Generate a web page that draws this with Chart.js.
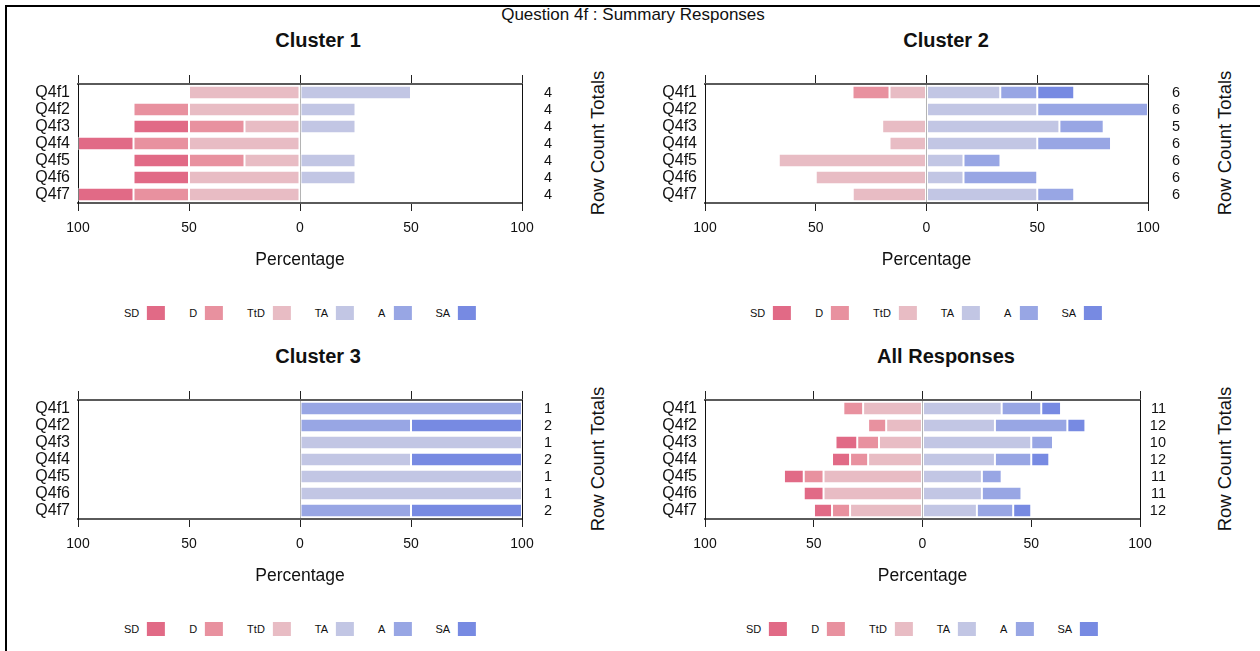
<!DOCTYPE html>
<html>
<head>
<meta charset="utf-8">
<script src="https://cdn.jsdelivr.net/npm/chart.js@4.4.1/dist/chart.umd.min.js"></script>
<style>
  body { margin: 0; background: #fff; font-family: "Liberation Sans", Arial, sans-serif; }
  #page { position: relative; width: 1260px; height: 651px; overflow: hidden; }
  .frame-top { position: absolute; left: 5px; top: 5px; width: 1255px; height: 2px; background: #000; }
  .frame-left { position: absolute; left: 5px; top: 5px; width: 2px; height: 646px; background: #000; }
  .txt { position: absolute; white-space: nowrap; color: #111; transform: translate(-50%, -50%); }
  .main-title { font-size: 17px; }
  .panel-title { font-size: 20px; font-weight: bold; }
  .side-title { font-size: 18.5px; transform: translate(-50%, -50%) rotate(-90deg); }
  .legend { position: absolute; display: flex; align-items: center; gap: 24px; transform: translate(-50%, -50%); font-size: 11px; color: #111; }
  .legend span.item { display: flex; align-items: center; gap: 8px; }
  .legend span.box { display: inline-block; width: 18px; height: 14px; }
  canvas { position: absolute; }
</style>
</head>
<body>
<div id="page">
  <div class="frame-top"></div>
  <div class="frame-left"></div>
</div>
<script>
// Likert levels and questions
const questions = ['Q4f1', 'Q4f2', 'Q4f3', 'Q4f4', 'Q4f5', 'Q4f6', 'Q4f7'];
const levels = ['SD', 'D', 'TtD', 'TA', 'A', 'SA'];
const levelColors = ['#E16A86', '#E8919F', '#E8BCC4', '#C2C6E4', '#98A6E4', '#778AE2'];
const xTicks = [-100, -50, 0, 50, 100];

// Cluster 1 (percent of row)
const c1SD  = [0, 0, 25, 25, 25, 25, 25];
const c1D   = [0, 25, 25, 25, 25, 0, 25];
const c1TtD = [50, 50, 25, 50, 25, 50, 50];
const c1TA  = [50, 25, 25, 0, 25, 25, 0];
const c1A   = [0, 0, 0, 0, 0, 0, 0];
const c1SA  = [0, 0, 0, 0, 0, 0, 0];
const c1Totals = [4, 4, 4, 4, 4, 4, 4];

// Cluster 2
const c2SD  = [0, 0, 0, 0, 0, 0, 0];
const c2D   = [16.7, 0, 0, 0, 0, 0, 0];
const c2TtD = [16.7, 0, 20, 16.7, 66.7, 50, 33.3];
const c2TA  = [33.3, 50, 60, 50, 16.7, 16.7, 50];
const c2A   = [16.7, 50, 20, 33.3, 16.7, 33.3, 16.7];
const c2SA  = [16.7, 0, 0, 0, 0, 0, 0];
const c2Totals = [6, 6, 5, 6, 6, 6, 6];

// Cluster 3
const c3SD  = [0, 0, 0, 0, 0, 0, 0];
const c3D   = [0, 0, 0, 0, 0, 0, 0];
const c3TtD = [0, 0, 0, 0, 0, 0, 0];
const c3TA  = [0, 0, 100, 50, 100, 100, 0];
const c3A   = [100, 50, 0, 0, 0, 0, 50];
const c3SA  = [0, 50, 0, 50, 0, 0, 50];
const c3Totals = [1, 2, 1, 2, 1, 1, 2];

// All responses
const allSD  = [0, 0, 10, 8.3, 9.1, 9.1, 8.3];
const allD   = [9.1, 8.3, 10, 8.3, 9.1, 0, 8.3];
const allTtD = [27.3, 16.7, 20, 25, 45.5, 45.5, 33.3];
const allTA  = [36.4, 33.3, 50, 33.3, 27.3, 27.3, 25];
const allA   = [18.2, 33.3, 10, 16.7, 9.1, 18.2, 16.7];
const allSA  = [9.1, 8.3, 0, 8.3, 0, 0, 8.3];
const allTotals = [11, 12, 10, 12, 11, 11, 12];

Chart.defaults.font.family = '"Liberation Sans", Arial, sans-serif';
Chart.defaults.color = '#111';

const page = document.getElementById('page');

function addText(cls, text, x, y) {
    const d = document.createElement('div');
    d.className = 'txt ' + cls;
    d.textContent = text;
    d.style.left = x + 'px';
    d.style.top = y + 'px';
    page.appendChild(d);
}

function addLegend(x, y) {
    const lg = document.createElement('div');
    lg.className = 'legend';
    lg.style.left = x + 'px';
    lg.style.top = y + 'px';
    levels.forEach((lv, i) => {
        const item = document.createElement('span');
        item.className = 'item';
        item.innerHTML = '<span>' + lv + '</span><span class="box" style="background:' + levelColors[i] + '"></span>';
        lg.appendChild(item);
    });
    page.appendChild(lg);
}

function makePanel(opts) {
    const canvas = document.createElement('canvas');
    canvas.width = opts.plotRight + opts.totalsW - opts.left;
    canvas.height = 220;
    canvas.style.left = opts.left + 'px';
    canvas.style.top = opts.top + 'px';
    page.appendChild(canvas);

    const s = opts.series; // [SD, D, TtD, TA, A, SA]
    const neg = arr => arr.map(v => -v);
    // stack order from zero outwards
    const order = [2, 1, 0, 3, 4, 5];
    const datasets = order.map(i => ({
        label: levels[i],
        data: i < 3 ? neg(s[i]) : s[i],
        backgroundColor: levelColors[i],
        borderColor: 'rgba(255,255,255,0.45)',
        borderWidth: 1,
        borderSkipped: false,
        barPercentage: 0.8,
        categoryPercentage: 1
    }));

    const fixY = w => sc => {
        sc.width = w;
        sc.paddingTop = 0;
        sc.paddingBottom = 0;
    };

    return new Chart(canvas.getContext('2d'), {
        type: 'bar',
        data: { labels: questions, datasets: datasets },
        options: {
            indexAxis: 'y',
            responsive: false,
            animation: false,
            devicePixelRatio: 1,
            layout: { padding: 0 },
            plugins: { legend: { display: false }, tooltip: { enabled: false } },
            scales: {
                x: {
                    type: 'linear', position: 'bottom', stacked: true,
                    min: -100, max: 100,
                    afterBuildTicks: sc => { sc.ticks = xTicks.map(v => ({ value: v })); },
                    afterFit: sc => { sc.height = 77; },
                    ticks: { font: { size: 14 }, padding: 9, maxRotation: 0, callback: v => Math.abs(v) },
                    grid: {
                        color: ctx => (ctx.tick && ctx.tick.value === 0) ? '#b4b4b4' : 'rgba(0,0,0,0)',
                        tickColor: '#222', tickLength: 8, lineWidth: 1
                    },
                    border: { display: true, color: '#5a5a5a', width: 2 },
                    title: { display: true, text: 'Percentage', font: { size: 17.5 }, padding: { top: 4, bottom: 9 } }
                },
                x2: {
                    type: 'linear', position: 'top',
                    min: -100, max: 100,
                    afterBuildTicks: sc => { sc.ticks = xTicks.map(v => ({ value: v })); },
                    afterFit: sc => { sc.height = 24; },
                    ticks: { display: false },
                    grid: { drawOnChartArea: false, tickColor: '#222', tickLength: 9 },
                    border: { display: true, color: '#5a5a5a', width: 2 }
                },
                y: {
                    type: 'category', position: 'left', stacked: true, offset: true,
                    afterFit: fixY(opts.plotLeft - opts.left),
                    ticks: { font: { size: 16 }, padding: 8, autoSkip: false },
                    grid: { display: false, drawTicks: false },
                    border: { display: true, color: '#111', width: 1 }
                },
                y2: {
                    type: 'category', position: 'right', offset: true,
                    labels: opts.totals.map(String),
                    afterFit: fixY(opts.totalsW),
                    ticks: { font: { size: 14.5 }, crossAlign: 'far', autoSkip: false },
                    grid: { display: false, drawTicks: false },
                    border: { display: true, color: '#111', width: 1 }
                }
            }
        }
    });
}

addText('main-title', 'Question 4f : Summary Responses', 633, 15);

makePanel({ left: 0, top: 60, plotLeft: 78, plotRight: 522, totalsW: 30, totals: c1Totals,
    series: [c1SD, c1D, c1TtD, c1TA, c1A, c1SA] });
makePanel({ left: 627, top: 60, plotLeft: 705, plotRight: 1148, totalsW: 32, totals: c2Totals,
    series: [c2SD, c2D, c2TtD, c2TA, c2A, c2SA] });
makePanel({ left: 0, top: 376, plotLeft: 78, plotRight: 522, totalsW: 30, totals: c3Totals,
    series: [c3SD, c3D, c3TtD, c3TA, c3A, c3SA] });
makePanel({ left: 627, top: 376, plotLeft: 705, plotRight: 1140, totalsW: 26, totals: allTotals,
    series: [allSD, allD, allTtD, allTA, allA, allSA] });

addText('panel-title', 'Cluster 1', 318, 40);
addText('panel-title', 'Cluster 2', 946, 40);
addText('panel-title', 'Cluster 3', 318, 356);
addText('panel-title', 'All Responses', 946, 356);

addText('side-title', 'Row Count Totals', 598, 143);
addText('side-title', 'Row Count Totals', 1225, 143);
addText('side-title', 'Row Count Totals', 598, 459);
addText('side-title', 'Row Count Totals', 1225, 459);

addLegend(300, 313);
addLegend(926, 313);
addLegend(300, 629);
addLegend(922, 629);
</script>
</body>
</html>
